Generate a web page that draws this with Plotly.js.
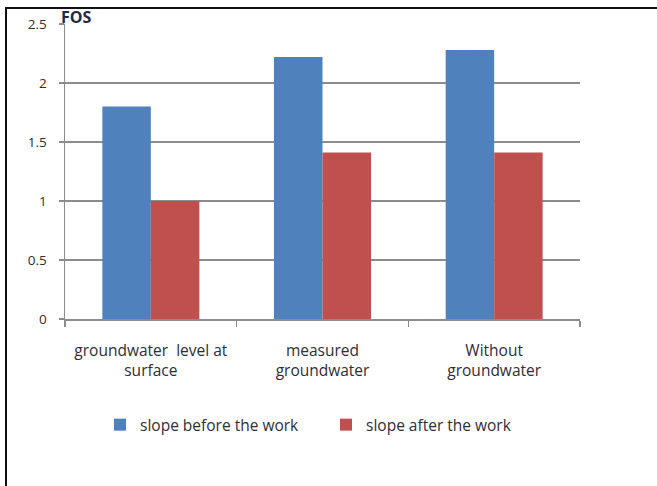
<!DOCTYPE html>
<html>
<head>
<meta charset="utf-8">
<script src="https://cdn.plot.ly/plotly-3.0.1.min.js"></script>
<style>
  html, body { margin: 0; padding: 0; background: #ffffff; }
  #wrap { position: relative; width: 657px; height: 486px; overflow: hidden; }
  #frame { position: absolute; left: 5px; top: 7px; right: -4px; bottom: -4px;
           border-left: 2px solid #111; border-top: 2px solid #111; pointer-events: none; }
  #chart { position: absolute; left: 0; top: 0; width: 657px; height: 486px; }
</style>
</head>
<body>
<div id="wrap">
  <div id="chart"></div>
  <div id="frame"></div>
</div>
<script>
// Factor of safety per groundwater scenario
const categories = [
  "groundwater  level at<br>surface",
  "measured<br>groundwater",
  "Without<br>groundwater"
];
const fosBefore = [1.80, 2.22, 2.28];
const fosAfter = [1.00, 1.41, 1.41];
const seriesNames = ["slope before the work", "slope after the work"];
const yTicks = [0, 0.5, 1, 1.5, 2, 2.5];
const yTickLabels = ["0", "0.5", "1", "1.5", "2", "2.5"];

const family = "Open Sans, Noto Sans, sans-serif";
const tickFont = { family: family, size: 13.5, color: "#2e2e38" };
const labelFont = { family: family, size: 15.5, color: "#2e2e38" };

const traces = [
  { type: "bar", name: seriesNames[0], x: categories, y: fosBefore,
    marker: { color: "#4F81BD" } },
  { type: "bar", name: seriesNames[1], x: categories, y: fosAfter,
    marker: { color: "#C0504D" } }
];

const layout = {
  width: 657, height: 486,
  margin: { l: 65, r: 77, t: 24, b: 167 },
  paper_bgcolor: "#ffffff", plot_bgcolor: "#ffffff",
  barmode: "group", bargap: 0.435, bargroupgap: 0,
  font: labelFont,
  showlegend: true,
  legend: {
    orientation: "h", x: 0.068, y: -0.302, xanchor: "left", yanchor: "top",
    entrywidth: 181, entrywidthmode: "pixels",
    font: labelFont, traceorder: "normal"
  },
  xaxis: {
    type: "category", tickson: "boundaries",
    ticks: "outside", ticklen: 6, tickwidth: 1.5, tickcolor: "#8c8c8c",
    showline: true, linecolor: "#8c8c8c", linewidth: 1.5,
    showgrid: false, zeroline: false,
    tickfont: labelFont, ticklabelstandoff: 17
  },
  yaxis: {
    range: [0, 2.5], tickvals: yTicks, ticktext: yTickLabels,
    ticks: "outside", ticklen: 5, tickwidth: 1.5, tickcolor: "#8c8c8c",
    showline: true, linecolor: "#8c8c8c", linewidth: 1.5,
    showgrid: true, gridcolor: "#8c8c8c", gridwidth: 1.5,
    zeroline: false, tickfont: tickFont, ticklabelstandoff: 9
  },
  annotations: [{
    text: "<b>FOS</b>", xref: "paper", yref: "paper", x: 0, y: 1,
    xanchor: "left", yanchor: "bottom", xshift: -6, yshift: -6, showarrow: false,
    font: { family: family, size: 16, color: "#1f2a44" }
  }]
};

Plotly.newPlot("chart", traces, layout, { displayModeBar: false, staticPlot: true });
</script>
</body>
</html>
